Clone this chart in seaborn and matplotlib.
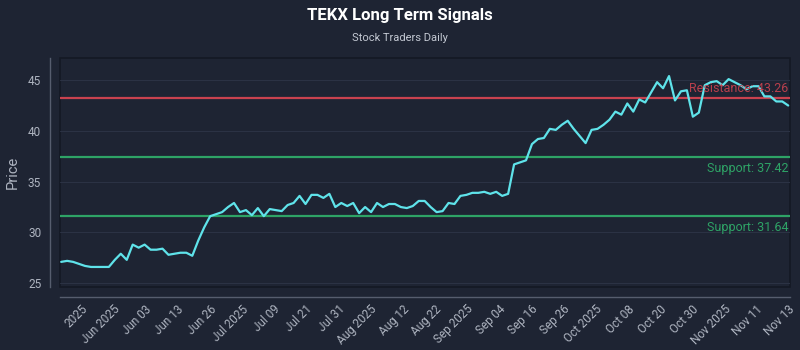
import numpy as np
import pandas as pd
import matplotlib
matplotlib.use("Agg")
import matplotlib.pyplot as plt
import seaborn as sns

# ---- data ----
prices = [
    27.1, 27.2, 27.1, 26.9, 26.7, 26.6, 26.6, 26.6, 26.6, 27.3,
    27.9, 27.3, 28.8, 28.5, 28.8, 28.3, 28.3, 28.4, 27.8, 27.9,
    28.0, 28.0, 27.7, 29.2, 30.5, 31.6, 31.8, 32.0, 32.5, 32.9,
    32.0, 32.2, 31.7, 32.4, 31.6, 32.3, 32.2, 32.1, 32.7, 32.9,
    33.6, 32.8, 33.7, 33.7, 33.4, 33.8, 32.5, 32.9, 32.6, 32.9,
    31.9, 32.5, 32.0, 32.9, 32.5, 32.8, 32.8, 32.5, 32.4, 32.6,
    33.1, 33.1, 32.5, 32.0, 32.1, 32.9, 32.8, 33.6, 33.7, 33.9,
    33.9, 34.0, 33.8, 34.0, 33.6, 33.8, 36.7, 36.9, 37.1, 38.7,
    39.2, 39.3, 40.2, 40.1, 40.6, 41.0, 40.2, 39.5, 38.8, 40.1,
    40.2, 40.6, 41.1, 41.9, 41.6, 42.7, 41.9, 43.1, 42.8, 43.8,
    44.8, 44.2, 45.4, 43.0, 43.9, 44.0, 41.4, 41.8, 44.5, 44.8,
    44.9, 44.5, 45.1, 44.8, 44.5, 44.1, 44.4, 44.4, 43.4, 43.4,
    42.9, 42.9, 42.5,
]
tick_labels = [
    "2025", "Jun 2025", "Jun 03", "Jun 13", "Jun 26", "Jul 2025", "Jul 09",
    "Jul 21", "Jul 31", "Aug 2025", "Aug 12", "Aug 22", "Sep 2025", "Sep 04",
    "Sep 16", "Sep 26", "Oct 2025", "Oct 08", "Oct 20", "Oct 30", "Nov 2025",
    "Nov 11", "Nov 13",
]
resistance = [43.26]
supports = [37.42, 31.64]

BG = "#1e2433"
TXT = "#aeb4c0"
CYAN = "#5fe3ea"
RED = "#c9424f"
GREEN = "#2ea366"

df = pd.DataFrame({"day": np.arange(len(prices)), "price": prices})

sns.set_theme(style="dark")
plt.rcParams["font.family"] = ["Roboto", "DejaVu Sans"]

fig = plt.figure(figsize=(8, 3.5), dpi=100, facecolor=BG)
ax = fig.add_axes([0.075, 0.181, 0.9125, 0.653])
ax.set_facecolor(BG)
ax.patch.set_edgecolor("#141924")
ax.patch.set_linewidth(1.2)

# offset spines first (set_position resets the ticks)
for side in ["top", "right"]:
    ax.spines[side].set_visible(False)
for side in ["left", "bottom"]:
    ax.spines[side].set_visible(True)
    ax.spines[side].set_color("#565d6e")
    ax.spines[side].set_linewidth(1.0)
    ax.spines[side].set_position(("outward", 7.5))

ax.grid(True, axis="y", color="#2b3244", linewidth=0.8)
ax.grid(False, axis="x")
ax.set_axisbelow(True)

for r in resistance:
    ax.axhline(r, color=RED, linewidth=1.6, zorder=2)
    ax.text(122, r + 0.3, f"Resistance: {r:.2f}", color=RED, alpha=0.9,
            ha="right", va="bottom", fontsize=9, zorder=4)
for s in supports:
    ax.axhline(s, color=GREEN, linewidth=1.6, zorder=2)
    ax.text(122, s - 0.5, f"Support: {s:.2f}", color=GREEN,
            ha="right", va="top", fontsize=9, zorder=4)

sns.lineplot(data=df, x="day", y="price", color=CYAN, linewidth=1.6,
             ax=ax, zorder=3)

ax.set_xlim(-0.2, 122.3)
ax.set_ylim(24.66, 47.17)
ax.set_yticks([25, 30, 35, 40, 45])
ax.set_xticks(np.linspace(3.3, 122, len(tick_labels)))
ax.set_xticklabels(tick_labels, rotation=45, ha="right",
                   rotation_mode="anchor")
ax.tick_params(axis="both", length=0, colors=TXT, labelsize=8.5)
ax.tick_params(axis="x", pad=4)
ax.tick_params(axis="y", pad=6)

ax.set_xlabel("")
ax.set_ylabel("Price", color=TXT, fontsize=10.5, labelpad=6)

fig.text(0.5, 0.957, "TEKX Long Term Signals", color="white",
         fontsize=12, fontweight="bold", ha="center", va="center")
fig.text(0.5, 0.891, "Stock Traders Daily", color="#c3c8d2",
         fontsize=8, ha="center", va="center")

fig.savefig("out.png", dpi=100, facecolor=BG)
